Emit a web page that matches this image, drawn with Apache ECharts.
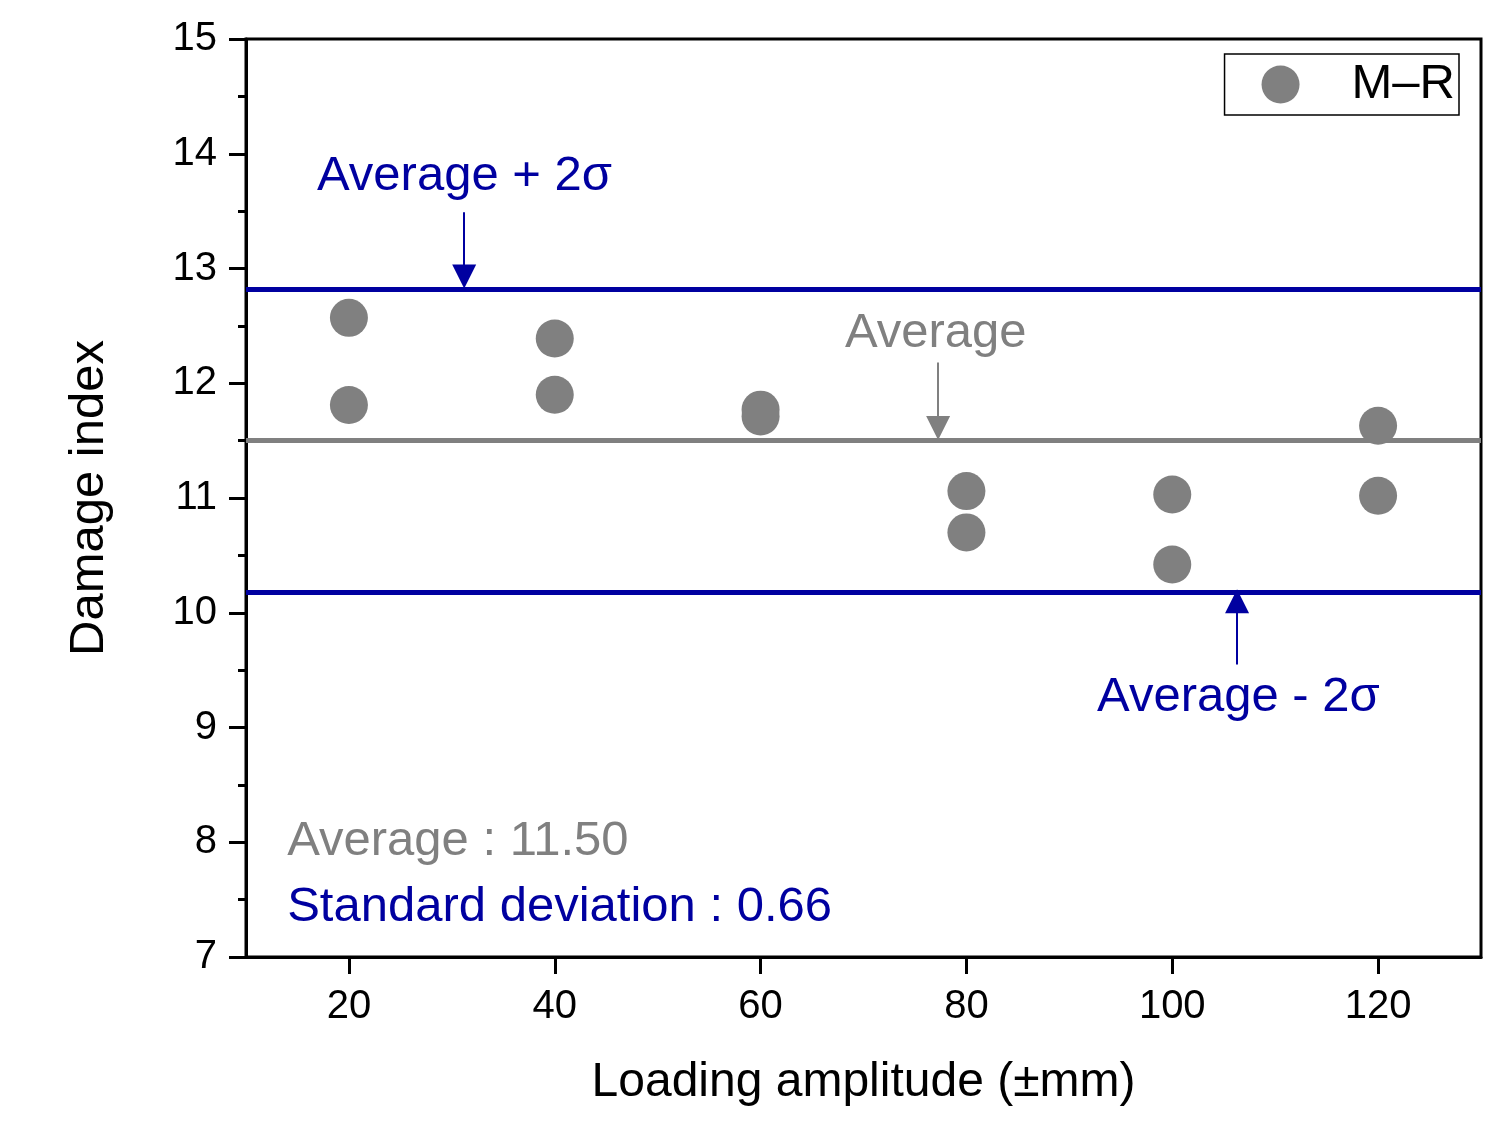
<!DOCTYPE html>
<html>
<head>
<meta charset="utf-8">
<script src="https://cdn.jsdelivr.net/npm/echarts@6/dist/echarts.min.js"></script>
<style>html,body{margin:0;padding:0;background:#fff;}#c{width:1493px;height:1125px;}</style>
</head>
<body>
<div id="c"></div>
<script>
// Data
var amplitudes = [20, 20, 40, 40, 60, 60, 80, 80, 100, 100, 120, 120];
var damageIndex = [12.57, 11.81, 12.39, 11.90, 11.77, 11.71, 11.06, 10.70, 11.03, 10.42, 11.63, 11.02];
var xTicks = [20, 40, 60, 80, 100, 120];
var averageValue = 11.50;
var stdDev = 0.66;
var refLines = [12.82, 11.50, 10.18]; // avg+2σ, avg, avg-2σ
// annotation arrows in data units: [x, yStart, yEnd]
var arrowUpper = [31.2, 13.49, 12.93];
var arrowAvg = [77.25, 12.18, 11.61];
var arrowLower = [106.3, 9.55, 10.10];
// annotation text anchors (left edge, vertical centre) in data units
var annotations = [
  {x: 16.9, y: 13.80, text: 'Average + 2σ', color: '#0000A0'},
  {x: 68.2, y: 12.43, text: 'Average', color: '#808080'},
  {x: 92.7, y: 9.26, text: 'Average - 2σ', color: '#0000A0'},
  {x: 14.0, y: 8.01, text: 'Average : 11.50', color: '#808080'},
  {x: 14.0, y: 7.43, text: 'Standard deviation : 0.66', color: '#0000A0'}
];

var BLUE = '#0000A0', GREY = '#808080';
var FONT = 'Liberation Sans, Arial, sans-serif';

var chart = echarts.init(document.getElementById('c'), null, {renderer: 'canvas'});

function arrowLine(a, color) {
  return {
    type: 'lines',
    coordinateSystem: 'cartesian2d',
    silent: true,
    symbol: ['none', 'triangle'],
    symbolSize: [10, 24],
    lineStyle: {color: color, width: 2, opacity: 1},
    data: [{coords: [[a[0], a[1]], [a[0], a[2]]]}],
    z: 5
  };
}

var option = {
  backgroundColor: '#fff',
  animation: false,
  grid: {left: 246, right: 12, top: 39, bottom: 168, show: true, borderColor: '#000', borderWidth: 3, containLabel: false},
  legend: {
    data: [{name: 'M–R', icon: 'circle'}],
    right: 34, top: 54,
    orient: 'horizontal',
    itemWidth: 38, itemHeight: 38,
    padding: [6, 4, 6, 37],
    borderColor: '#000', borderWidth: 1.5, borderRadius: 0,
    backgroundColor: '#fff',
    textStyle: {fontFamily: FONT, fontSize: 49, color: '#000', padding: [0, 0, 0, 47]}
  },
  xAxis: {
    type: 'value', min: 10, max: 130,
    name: 'Loading amplitude (±mm)', nameLocation: 'middle', nameGap: 102,
    nameTextStyle: {fontFamily: FONT, fontSize: 48, color: '#000'},
    axisLine: {show: true, onZero: false, lineStyle: {color: '#000', width: 3}},
    axisTick: {show: true, inside: false, length: 17, lineStyle: {color: '#000', width: 3}, customValues: xTicks},
    axisLabel: {fontFamily: FONT, fontSize: 40, color: '#000', margin: 30, customValues: xTicks},
    splitLine: {show: false}
  },
  yAxis: {
    type: 'value', min: 7, max: 15, interval: 1,
    name: 'Damage index', nameLocation: 'middle', nameGap: 132, nameRotate: 90,
    nameTextStyle: {fontFamily: FONT, fontSize: 49, color: '#000'},
    axisLine: {show: true, onZero: false, lineStyle: {color: '#000', width: 3}},
    axisTick: {show: true, inside: false, length: 17, lineStyle: {color: '#000', width: 3}},
    minorTick: {show: true, splitNumber: 2, length: 8, lineStyle: {color: '#000', width: 3}},
    axisLabel: {fontFamily: FONT, fontSize: 40, color: '#000', margin: 29},
    splitLine: {show: false}
  },
  series: [
    {
      name: 'M–R',
      type: 'scatter',
      symbol: 'circle',
      symbolSize: 38,
      itemStyle: {color: GREY, opacity: 1},
      data: amplitudes.map(function (x, i) { return [x, damageIndex[i]]; }),
      z: 4,
      markLine: {
        silent: true,
        symbol: ['none', 'none'],
        label: {show: false},
        data: [
          {yAxis: refLines[0], lineStyle: {color: BLUE, width: 5, type: 'solid', opacity: 1}},
          {yAxis: refLines[1], lineStyle: {color: GREY, width: 5, type: 'solid', opacity: 1}},
          {yAxis: refLines[2], lineStyle: {color: BLUE, width: 5, type: 'solid', opacity: 1}}
        ],
        z: 3
      }
    },
    arrowLine(arrowUpper, BLUE),
    arrowLine(arrowAvg, GREY),
    arrowLine(arrowLower, BLUE),
    {
      type: 'scatter',
      silent: true,
      symbolSize: 0,
      itemStyle: {opacity: 1},
      data: annotations.map(function (a) {
        return {value: [a.x, a.y], label: {show: true, formatter: a.text, color: a.color, opacity: 1}};
      }),
      label: {show: true, position: 'right', distance: 0, fontFamily: FONT, fontSize: 49, align: 'left', verticalAlign: 'middle', opacity: 1},
      z: 6
    }
  ]
};
chart.setOption(option);
</script>
</body>
</html>
